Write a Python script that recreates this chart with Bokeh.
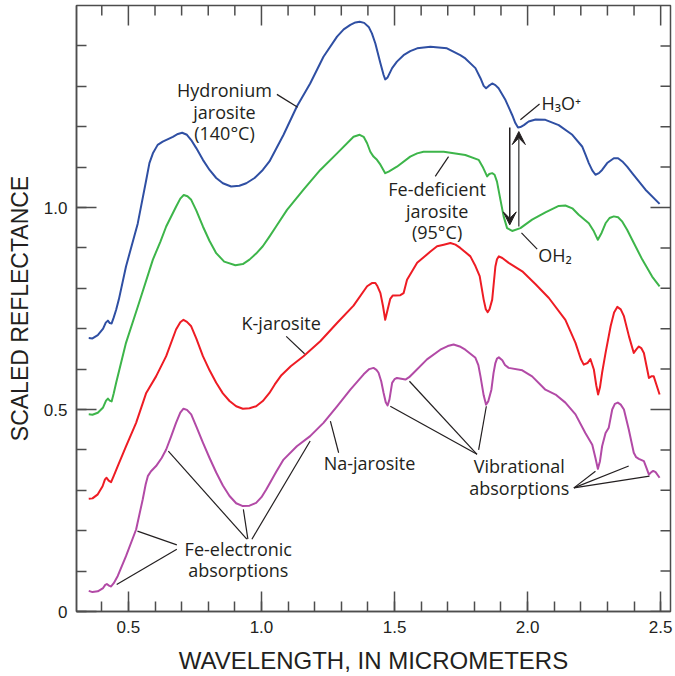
import math
from bokeh.plotting import figure
from bokeh.models import Label, Arrow, VeeHead, FixedTicker, NumeralTickFormatter
from bokeh.embed import file_html
from bokeh.resources import INLINE

# ---------------- data ----------------
hyd_x = [0.351, 0.365, 0.385, 0.405, 0.415, 0.423, 0.430, 0.437, 0.445, 0.454, 0.464, 0.491, 0.535,
         0.567, 0.579, 0.592, 0.610, 0.629, 0.667, 0.686, 0.702, 0.720, 0.736, 0.755, 0.780, 0.805,
         0.830, 0.855, 0.886, 0.917, 0.943, 0.974, 1.005, 1.030, 1.083, 1.133, 1.183, 1.233, 1.284,
         1.309, 1.334, 1.353, 1.369, 1.386, 1.403, 1.415, 1.428, 1.447, 1.459, 1.465, 1.474, 1.491,
         1.509, 1.534, 1.559, 1.585, 1.635, 1.697, 1.747, 1.766, 1.804, 1.823, 1.835, 1.844, 1.854,
         1.867, 1.879, 1.891, 1.917, 1.942, 1.954, 1.964, 1.973, 1.986, 2.004, 2.030, 2.067, 2.117,
         2.168, 2.205, 2.218, 2.230, 2.243, 2.255, 2.268, 2.280, 2.299, 2.324, 2.340, 2.356, 2.374,
         2.393, 2.443, 2.496]
hyd_y = [0.677, 0.676, 0.684, 0.700, 0.715, 0.720, 0.714, 0.713, 0.728, 0.747, 0.772, 0.854, 0.960,
         1.068, 1.110, 1.134, 1.155, 1.163, 1.175, 1.182, 1.185, 1.180, 1.167, 1.147, 1.118, 1.093,
         1.073, 1.060, 1.052, 1.054, 1.060, 1.073, 1.093, 1.114, 1.180, 1.250, 1.307, 1.373, 1.423,
         1.441, 1.452, 1.458, 1.460, 1.457, 1.447, 1.431, 1.406, 1.357, 1.328, 1.317, 1.322, 1.345,
         1.361, 1.377, 1.387, 1.394, 1.398, 1.394, 1.377, 1.369, 1.345, 1.320, 1.301, 1.295, 1.301,
         1.307, 1.303, 1.295, 1.266, 1.229, 1.209, 1.198, 1.199, 1.204, 1.213, 1.218, 1.217, 1.204,
         1.180, 1.151, 1.130, 1.110, 1.092, 1.081, 1.085, 1.093, 1.110, 1.122, 1.122, 1.114, 1.101,
         1.085, 1.044, 1.009]

fed_x = [0.351, 0.365, 0.385, 0.405, 0.416, 0.423, 0.430, 0.437, 0.445, 0.454, 0.491, 0.538, 0.592,
         0.620, 0.642, 0.679, 0.695, 0.708, 0.722, 0.736, 0.755, 0.780, 0.805, 0.830, 0.860, 0.902,
         0.930, 0.955, 0.980, 1.005, 1.030, 1.055, 1.096, 1.158, 1.221, 1.284, 1.346, 1.369, 1.384,
         1.397, 1.409, 1.421, 1.434, 1.447, 1.465, 1.478, 1.509, 1.559, 1.585, 1.609, 1.685, 1.735,
         1.766, 1.816, 1.831, 1.848, 1.856, 1.867, 1.876, 1.885, 1.898, 1.910, 1.923, 1.942, 1.973,
         2.017, 2.067, 2.117, 2.142, 2.168, 2.192, 2.230, 2.249, 2.264, 2.278, 2.293, 2.308, 2.324,
         2.340, 2.356, 2.374, 2.393, 2.431, 2.468, 2.496]
fed_y = [0.488, 0.487, 0.492, 0.505, 0.522, 0.527, 0.522, 0.520, 0.540, 0.566, 0.665, 0.760, 0.871,
         0.915, 0.953, 1.002, 1.022, 1.031, 1.028, 1.019, 0.993, 0.953, 0.917, 0.887, 0.866, 0.857,
         0.860, 0.871, 0.886, 0.904, 0.928, 0.953, 0.994, 1.044, 1.093, 1.134, 1.175, 1.180, 1.175,
         1.159, 1.138, 1.126, 1.118, 1.106, 1.085, 1.089, 1.101, 1.126, 1.134, 1.138, 1.138, 1.133,
         1.130, 1.118, 1.101, 1.077, 1.083, 1.085, 1.081, 1.064, 1.019, 0.978, 0.949, 0.942, 0.949,
         0.970, 0.988, 1.004, 1.005, 0.998, 0.982, 0.961, 0.941, 0.920, 0.937, 0.961, 0.974, 0.978,
         0.976, 0.965, 0.945, 0.920, 0.871, 0.829, 0.805]

k_x = [0.351, 0.365, 0.385, 0.403, 0.412, 0.418, 0.426, 0.435, 0.445, 0.460, 0.491, 0.529, 0.567,
       0.604, 0.642, 0.679, 0.695, 0.707, 0.720, 0.736, 0.755, 0.780, 0.805, 0.830, 0.855, 0.880,
       0.905, 0.930, 0.955, 0.980, 1.005, 1.030, 1.050, 1.075, 1.110, 1.158, 1.221, 1.284, 1.346,
       1.397, 1.415, 1.428, 1.436, 1.447, 1.457, 1.465, 1.474, 1.484, 1.493, 1.503, 1.522, 1.534,
       1.547, 1.585, 1.635, 1.660, 1.685, 1.710, 1.729, 1.747, 1.785, 1.804, 1.820, 1.835, 1.843,
       1.850, 1.857, 1.867, 1.879, 1.885, 1.892, 1.905, 1.929, 1.980, 2.030, 2.080, 2.142, 2.180,
       2.200, 2.211, 2.225, 2.236, 2.249, 2.258, 2.265, 2.272, 2.280, 2.293, 2.312, 2.325, 2.337,
       2.350, 2.362, 2.381, 2.399, 2.408, 2.418, 2.427, 2.437, 2.456, 2.465, 2.474, 2.496]
k_y = [0.279, 0.280, 0.290, 0.310, 0.327, 0.331, 0.324, 0.320, 0.336, 0.360, 0.409, 0.467, 0.541,
       0.582, 0.632, 0.698, 0.716, 0.722, 0.717, 0.706, 0.676, 0.632, 0.597, 0.566, 0.540, 0.521,
       0.508, 0.502, 0.503, 0.508, 0.521, 0.541, 0.562, 0.585, 0.607, 0.632, 0.669, 0.714, 0.757,
       0.805, 0.813, 0.813, 0.805, 0.788, 0.755, 0.722, 0.747, 0.774, 0.782, 0.782, 0.783, 0.788,
       0.821, 0.863, 0.891, 0.904, 0.908, 0.912, 0.908, 0.900, 0.879, 0.855, 0.830, 0.772, 0.748,
       0.741, 0.748, 0.772, 0.854, 0.872, 0.879, 0.875, 0.863, 0.842, 0.810, 0.776, 0.722, 0.665,
       0.625, 0.611, 0.615, 0.625, 0.599, 0.560, 0.537, 0.555, 0.591, 0.640, 0.706, 0.740, 0.754,
       0.748, 0.731, 0.681, 0.640, 0.648, 0.656, 0.652, 0.640, 0.578, 0.582, 0.582, 0.537]

na_x = [0.351, 0.365, 0.385, 0.405, 0.413, 0.419, 0.427, 0.435, 0.445, 0.460, 0.491, 0.529, 0.554,
        0.565, 0.573, 0.585, 0.604, 0.625, 0.642, 0.660, 0.679, 0.695, 0.707, 0.720, 0.736, 0.755,
        0.780, 0.805, 0.830, 0.855, 0.880, 0.905, 0.930, 0.955, 0.980, 1.000, 1.018, 1.035, 1.055,
        1.083, 1.133, 1.183, 1.233, 1.284, 1.334, 1.384, 1.405, 1.421, 1.432, 1.440, 1.450, 1.459,
        1.467, 1.474, 1.481, 1.491, 1.500, 1.509, 1.525, 1.541, 1.555, 1.572, 1.622, 1.672, 1.700,
        1.722, 1.745, 1.766, 1.804, 1.815, 1.823, 1.835, 1.844, 1.852, 1.864, 1.872, 1.879, 1.885,
        1.892, 1.905, 1.915, 1.929, 1.980, 2.017, 2.067, 2.105, 2.142, 2.180, 2.217, 2.243, 2.255,
        2.264, 2.272, 2.280, 2.293, 2.305, 2.318, 2.328, 2.339, 2.350, 2.362, 2.380, 2.399, 2.408,
        2.418, 2.437, 2.447, 2.456, 2.465, 2.472, 2.481, 2.496]
na_y = [0.051, 0.048, 0.050, 0.058, 0.066, 0.068, 0.064, 0.062, 0.070, 0.088, 0.137, 0.203, 0.278,
        0.315, 0.335, 0.347, 0.360, 0.380, 0.401, 0.432, 0.467, 0.492, 0.502, 0.499, 0.488, 0.458,
        0.418, 0.380, 0.344, 0.312, 0.286, 0.268, 0.261, 0.262, 0.269, 0.283, 0.302, 0.322, 0.345,
        0.376, 0.409, 0.434, 0.467, 0.508, 0.549, 0.587, 0.600, 0.603, 0.598, 0.591, 0.570, 0.541,
        0.518, 0.510, 0.525, 0.566, 0.575, 0.578, 0.576, 0.574, 0.580, 0.591, 0.624, 0.648, 0.657,
        0.661, 0.656, 0.648, 0.628, 0.610, 0.582, 0.535, 0.512, 0.520, 0.549, 0.590, 0.615, 0.626,
        0.629, 0.622, 0.610, 0.603, 0.597, 0.582, 0.549, 0.537, 0.517, 0.488, 0.442, 0.413, 0.380,
        0.353, 0.372, 0.409, 0.442, 0.455, 0.500, 0.514, 0.517, 0.512, 0.500, 0.451, 0.393, 0.382,
        0.378, 0.372, 0.355, 0.339, 0.345, 0.348, 0.345, 0.331]

x_major = [0.5, 1.0, 1.5, 2.0, 2.5]
x_minor = [0.4, 0.6, 0.7, 0.8, 0.9, 1.1, 1.2, 1.3, 1.4, 1.6, 1.7, 1.8, 1.9, 2.1, 2.2, 2.3, 2.4]
y_major = [0.0, 0.5, 1.0]
y_minor = [0.1, 0.2, 0.3, 0.4, 0.6, 0.7, 0.8, 0.9, 1.1, 1.2, 1.3, 1.4]

# ---------------- styles ----------------
X_MIN, X_MAX = 0.305, 2.537
Y_MIN, Y_MAX = 0.0, 1.5
BLUE = "#2f4fa3"
GREEN = "#3db54a"
RED = "#ee1c24"
PURPLE = "#b24aa6"
INK = "#231f20"
FRAME = "#4d4d4d"
AFONT = "Open Sans"
AFS = "18px"

p = figure(width=675, height=676, x_range=(X_MIN, X_MAX), y_range=(Y_MIN, Y_MAX),
           output_backend="svg", toolbar_location=None,
           min_border_left=76, min_border_right=5, min_border_top=5, min_border_bottom=64)
p.xgrid.visible = False
p.ygrid.visible = False
p.outline_line_color = FRAME
p.outline_line_width = 1.5
p.background_fill_color = "white"
p.border_fill_color = "white"

xa = p.xaxis[0]
ya = p.yaxis[0]
xa.ticker = FixedTicker(ticks=x_major, minor_ticks=x_minor + x_major)
ya.ticker = FixedTicker(ticks=y_major, minor_ticks=y_minor + y_major)
xa.formatter = NumeralTickFormatter(format="0.0")
ya.formatter = NumeralTickFormatter(format="0.0")
ya.major_label_overrides = {0: "0"}
for ax in (xa, ya):
    ax.major_tick_in = 20
    ax.major_tick_out = 0
    ax.minor_tick_in = 10
    ax.minor_tick_out = 0
    ax.major_tick_line_color = FRAME
    ax.minor_tick_line_color = FRAME
    ax.major_tick_line_width = 1.5
    ax.minor_tick_line_width = 1.5
    ax.axis_line_color = FRAME
    ax.axis_line_width = 1.5
    ax.major_label_text_font = "Liberation Sans"
    ax.major_label_text_font_size = "17px"
    ax.major_label_text_color = INK
    ax.axis_label_text_font = "Liberation Sans"
    ax.axis_label_text_font_size = "23px"
    ax.axis_label_text_font_style = "normal"
    ax.axis_label_text_color = INK
xa.axis_label = "WAVELENGTH, IN MICROMETERS"
xa.axis_label_text_font_size = "24px"
ya.axis_label = "SCALED REFLECTANCE"
xa.major_label_standoff = 9
ya.major_label_standoff = 9
xa.axis_label_standoff = 11
ya.axis_label_standoff = 8

# inward ticks on the top and right edges of the frame
p.ray(x=x_major, y=[Y_MAX] * len(x_major), length=20, length_units="screen",
      angle=-math.pi / 2, line_color=FRAME, line_width=1.5)
p.ray(x=x_minor, y=[Y_MAX] * len(x_minor), length=10, length_units="screen",
      angle=-math.pi / 2, line_color=FRAME, line_width=1.5)
p.ray(x=[X_MAX] * len(y_major), y=y_major, length=20, length_units="screen",
      angle=math.pi, line_color=FRAME, line_width=1.5)
p.ray(x=[X_MAX] * len(y_minor), y=y_minor, length=10, length_units="screen",
      angle=math.pi, line_color=FRAME, line_width=1.5)

# curves
for xs, ys, c in ((hyd_x, hyd_y, BLUE), (fed_x, fed_y, GREEN), (k_x, k_y, RED), (na_x, na_y, PURPLE)):
    p.line(xs, ys, line_color=c, line_width=2, line_join="round")

# annotation texts
def lab(x, y, t, align="center"):
    p.add_layout(Label(x=x, y=y, text=t, text_font=AFONT, text_font_size=AFS, text_color=INK,
                       text_align=align, text_baseline="middle"))

lab(0.861, 1.291, "Hydronium")
lab(0.861, 1.237, "jarosite")
lab(0.861, 1.184, "(140°C)")
lab(1.660, 1.045, "Fe-deficient")
lab(1.660, 0.992, "jarosite")
lab(1.660, 0.939, "(95°C)")
lab(2.052, 1.259, "H₃O⁺", "left")
lab(2.040, 0.883, "OH₂", "left")
lab(1.074, 0.714, "K-jarosite")
lab(1.406, 0.368, "Na-jarosite")
lab(0.913, 0.154, "Fe-electronic")
lab(0.913, 0.102, "absorptions")
lab(1.969, 0.360, "Vibrational")
lab(1.969, 0.306, "absorptions")

# leader lines
lx0 = [1.058, 1.653, 1.973, 1.977, 1.093, 1.290, 0.682, 0.682, 0.945, 0.949, 0.964,
       1.810, 1.810, 1.816, 2.174, 2.174, 2.174]
ly0 = [1.280, 1.077, 1.217, 0.937, 0.681, 0.393, 0.165, 0.154, 0.179, 0.179, 0.179,
       0.389, 0.389, 0.400, 0.306, 0.306, 0.306]
lx1 = [1.136, 1.703, 2.045, 2.036, 1.162, 1.259, 0.534, 0.456, 0.650, 0.932, 1.183,
       1.484, 1.556, 1.845, 2.255, 2.380, 2.458]
ly1 = [1.248, 1.126, 1.256, 0.897, 0.638, 0.471, 0.199, 0.067, 0.397, 0.253, 0.422,
       0.508, 0.570, 0.508, 0.347, 0.360, 0.335]
p.segment(lx0, ly0, lx1, ly1, line_color=INK, line_width=1.2)

# arrows (H3O+ <-> OH2)
p.add_layout(Arrow(x_start=1.933, y_start=1.198, x_end=1.933, y_end=0.957,
                   line_color=INK, line_width=1.5,
                   end=VeeHead(size=13, fill_color=INK, line_color=INK)))
p.add_layout(Arrow(x_start=1.967, y_start=0.953, x_end=1.967, y_end=1.188,
                   line_color="#555555", line_width=1.5,
                   end=VeeHead(size=13, fill_color=INK, line_color=INK)))

open("out.html", "w").write(file_html(p, INLINE))
